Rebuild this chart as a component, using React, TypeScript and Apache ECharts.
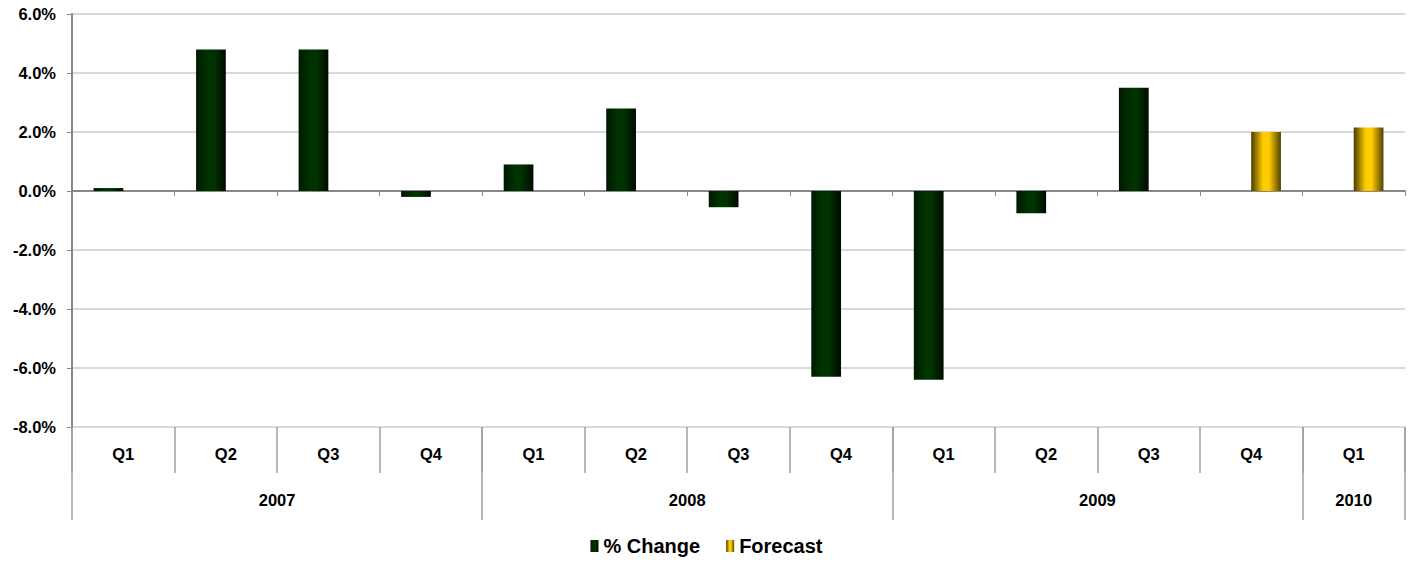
import React, { useEffect, useRef } from "react";
import * as echarts from "echarts";

const quarters = ["Q1", "Q2", "Q3", "Q4", "Q1", "Q2", "Q3", "Q4", "Q1", "Q2", "Q3", "Q4", "Q1"];
const pctChange = [0.1, 4.8, 4.8, -0.2, 0.9, 2.8, -0.55, -6.3, -6.4, -0.75, 3.5, null, null];
const forecast = [null, null, null, null, null, null, null, null, null, null, null, 2.0, 2.15];
const years = ["2007", "2008", "2009", "2010"];
const yearSpans = [4, 4, 4, 1];
const yTicks = [-8, -6, -4, -2, 0, 2, 4, 6];

const FONT = "'Liberation Sans', Arial, sans-serif";

export default function App() {
  const ref = useRef<HTMLDivElement>(null);
  useEffect(() => {
    if (!ref.current) return;
    const chart = echarts.init(ref.current, undefined, { renderer: "svg" });

    const bounds: number[] = [0];
    const centers: number[] = [];
    let acc = 0;
    yearSpans.forEach((s) => {
      centers.push(acc + s / 2);
      acc += s;
      bounds.push(acc);
    });
    const yearAt = (v: number) => {
      const i = centers.findIndex((c) => Math.abs(c - v) < 1e-6);
      return i >= 0 ? years[i] : "";
    };

    const green = new echarts.graphic.LinearGradient(0, 0, 1, 0, [
      { offset: 0, color: "#001800" },
      { offset: 0.4, color: "#003300" },
      { offset: 0.6, color: "#003300" },
      { offset: 1, color: "#000a00" },
    ]);
    const gold = new echarts.graphic.LinearGradient(0, 0, 1, 0, [
      { offset: 0, color: "#4a3c00" },
      { offset: 0.4, color: "#ffcc00" },
      { offset: 0.6, color: "#ffcc00" },
      { offset: 1, color: "#524200" },
    ]);

    const labelStyle = { color: "#000", fontFamily: FONT, fontWeight: "bold" as const, fontSize: 16.5 };

    chart.setOption({
      animation: false,
      grid: { left: 72, right: 8, top: 14, bottom: 139, containLabel: false },
      legend: {
        bottom: 5,
        left: "center",
        itemWidth: 8,
        itemHeight: 12,
        itemGap: 26,
        textStyle: { color: "#000", fontFamily: FONT, fontWeight: "bold", fontSize: 20 },
        data: [
          { name: "% Change", icon: "rect" },
          { name: "Forecast", icon: "rect" },
        ],
      },
      xAxis: [
        {
          type: "category",
          data: quarters,
          axisLine: { show: true, onZero: true, lineStyle: { color: "#888", width: 2 } },
          axisTick: { show: true, length: 5, lineStyle: { color: "#888" } },
          axisLabel: { show: false },
          splitLine: { show: false },
        },
        {
          type: "category",
          data: quarters,
          position: "bottom",
          axisLine: { show: false, onZero: false },
          axisTick: { show: true, length: 46, lineStyle: { color: "#a0a0a0", width: 1.5 } },
          axisLabel: { ...labelStyle, margin: 18 },
          splitLine: { show: false },
        },
        {
          type: "value",
          min: 0,
          max: bounds[bounds.length - 1],
          position: "bottom",
          axisLine: { show: false, onZero: false },
          axisTick: { show: true, length: 93, customValues: bounds, lineStyle: { color: "#a0a0a0", width: 1.5 } },
          axisLabel: { ...labelStyle, margin: 64, customValues: centers, formatter: (v: number) => yearAt(v) },
          splitLine: { show: false },
        },
      ],
      yAxis: {
        type: "value",
        min: yTicks[0],
        max: yTicks[yTicks.length - 1],
        interval: 2,
        axisLine: { show: true, lineStyle: { color: "#888", width: 2 } },
        axisTick: { show: true, length: 5, lineStyle: { color: "#888" } },
        axisLabel: { ...labelStyle, margin: 16, formatter: (v: number) => v.toFixed(1) + "%" },
        splitLine: { show: true, lineStyle: { color: "#cccccc", width: 1.5 } },
      },
      series: [
        {
          name: "% Change",
          type: "bar",
          xAxisIndex: 0,
          data: pctChange,
          barWidth: "29%",
          barGap: "0%",
          itemStyle: { color: green },
        },
        {
          name: "Forecast",
          type: "bar",
          xAxisIndex: 0,
          data: forecast,
          barWidth: "29%",
          barGap: "0%",
          itemStyle: { color: gold },
        },
      ],
    });
    return () => chart.dispose();
  }, []);
  return (
    <div
      ref={ref}
      style={{ position: "absolute", left: 0, top: 0, width: 1413, height: 566, background: "#fff" }}
    />
  );
}
